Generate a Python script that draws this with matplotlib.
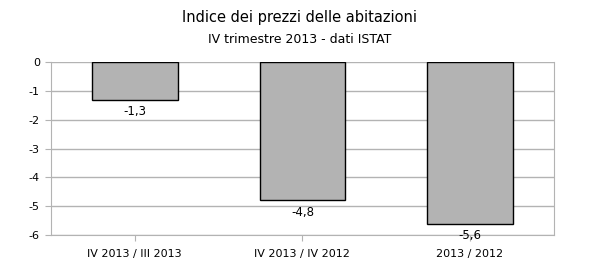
import matplotlib
matplotlib.use('Agg')
import matplotlib.pyplot as plt

# Data
categories = ['IV 2013 / III 2013', 'IV 2013 / IV 2012', '2013 / 2012']
values = [-1.3, -4.8, -5.6]
value_labels = ['-1,3', '-4,8', '-5,6']
yticks = [0, -1, -2, -3, -4, -5, -6]

grid_color = '#b3b3b3'

fig = plt.figure(figsize=(6, 2.65), dpi=100)
ax = fig.add_axes([0.085, 0.113, 0.838, 0.653])

x = range(len(categories))
ax.bar(x, values, width=0.51, color='#b3b3b3', edgecolor='black', linewidth=1, zorder=3)

# value labels below each bar
for xi, v, lab in zip(x, values, value_labels):
    ax.text(xi, v - 0.2, lab, ha='center', va='top', fontsize=8.5, color='black', zorder=4)

ax.set_xlim(-0.5, len(categories) - 0.5)
ax.set_ylim(-6, 0)
ax.set_yticks(yticks)
ax.set_yticklabels([str(t) for t in yticks])
ax.set_xticks(list(x))
ax.set_xticklabels(categories)

ax.yaxis.grid(True, color=grid_color, linewidth=1, zorder=0)
for side in ['left', 'bottom', 'right']:
    ax.spines[side].set_color(grid_color)
ax.spines['top'].set_visible(False)
ax.tick_params(axis='both', colors=grid_color, length=4, labelsize=8, labelcolor='black')
ax.tick_params(axis='y', pad=4)
ax.tick_params(axis='x', pad=6)

fig.text(0.5, 0.935, 'Indice dei prezzi delle abitazioni', ha='center', va='center', fontsize=10.5)
fig.text(0.5, 0.85, 'IV trimestre 2013 - dati ISTAT', ha='center', va='center', fontsize=9)

fig.savefig('out.png', dpi=100)
